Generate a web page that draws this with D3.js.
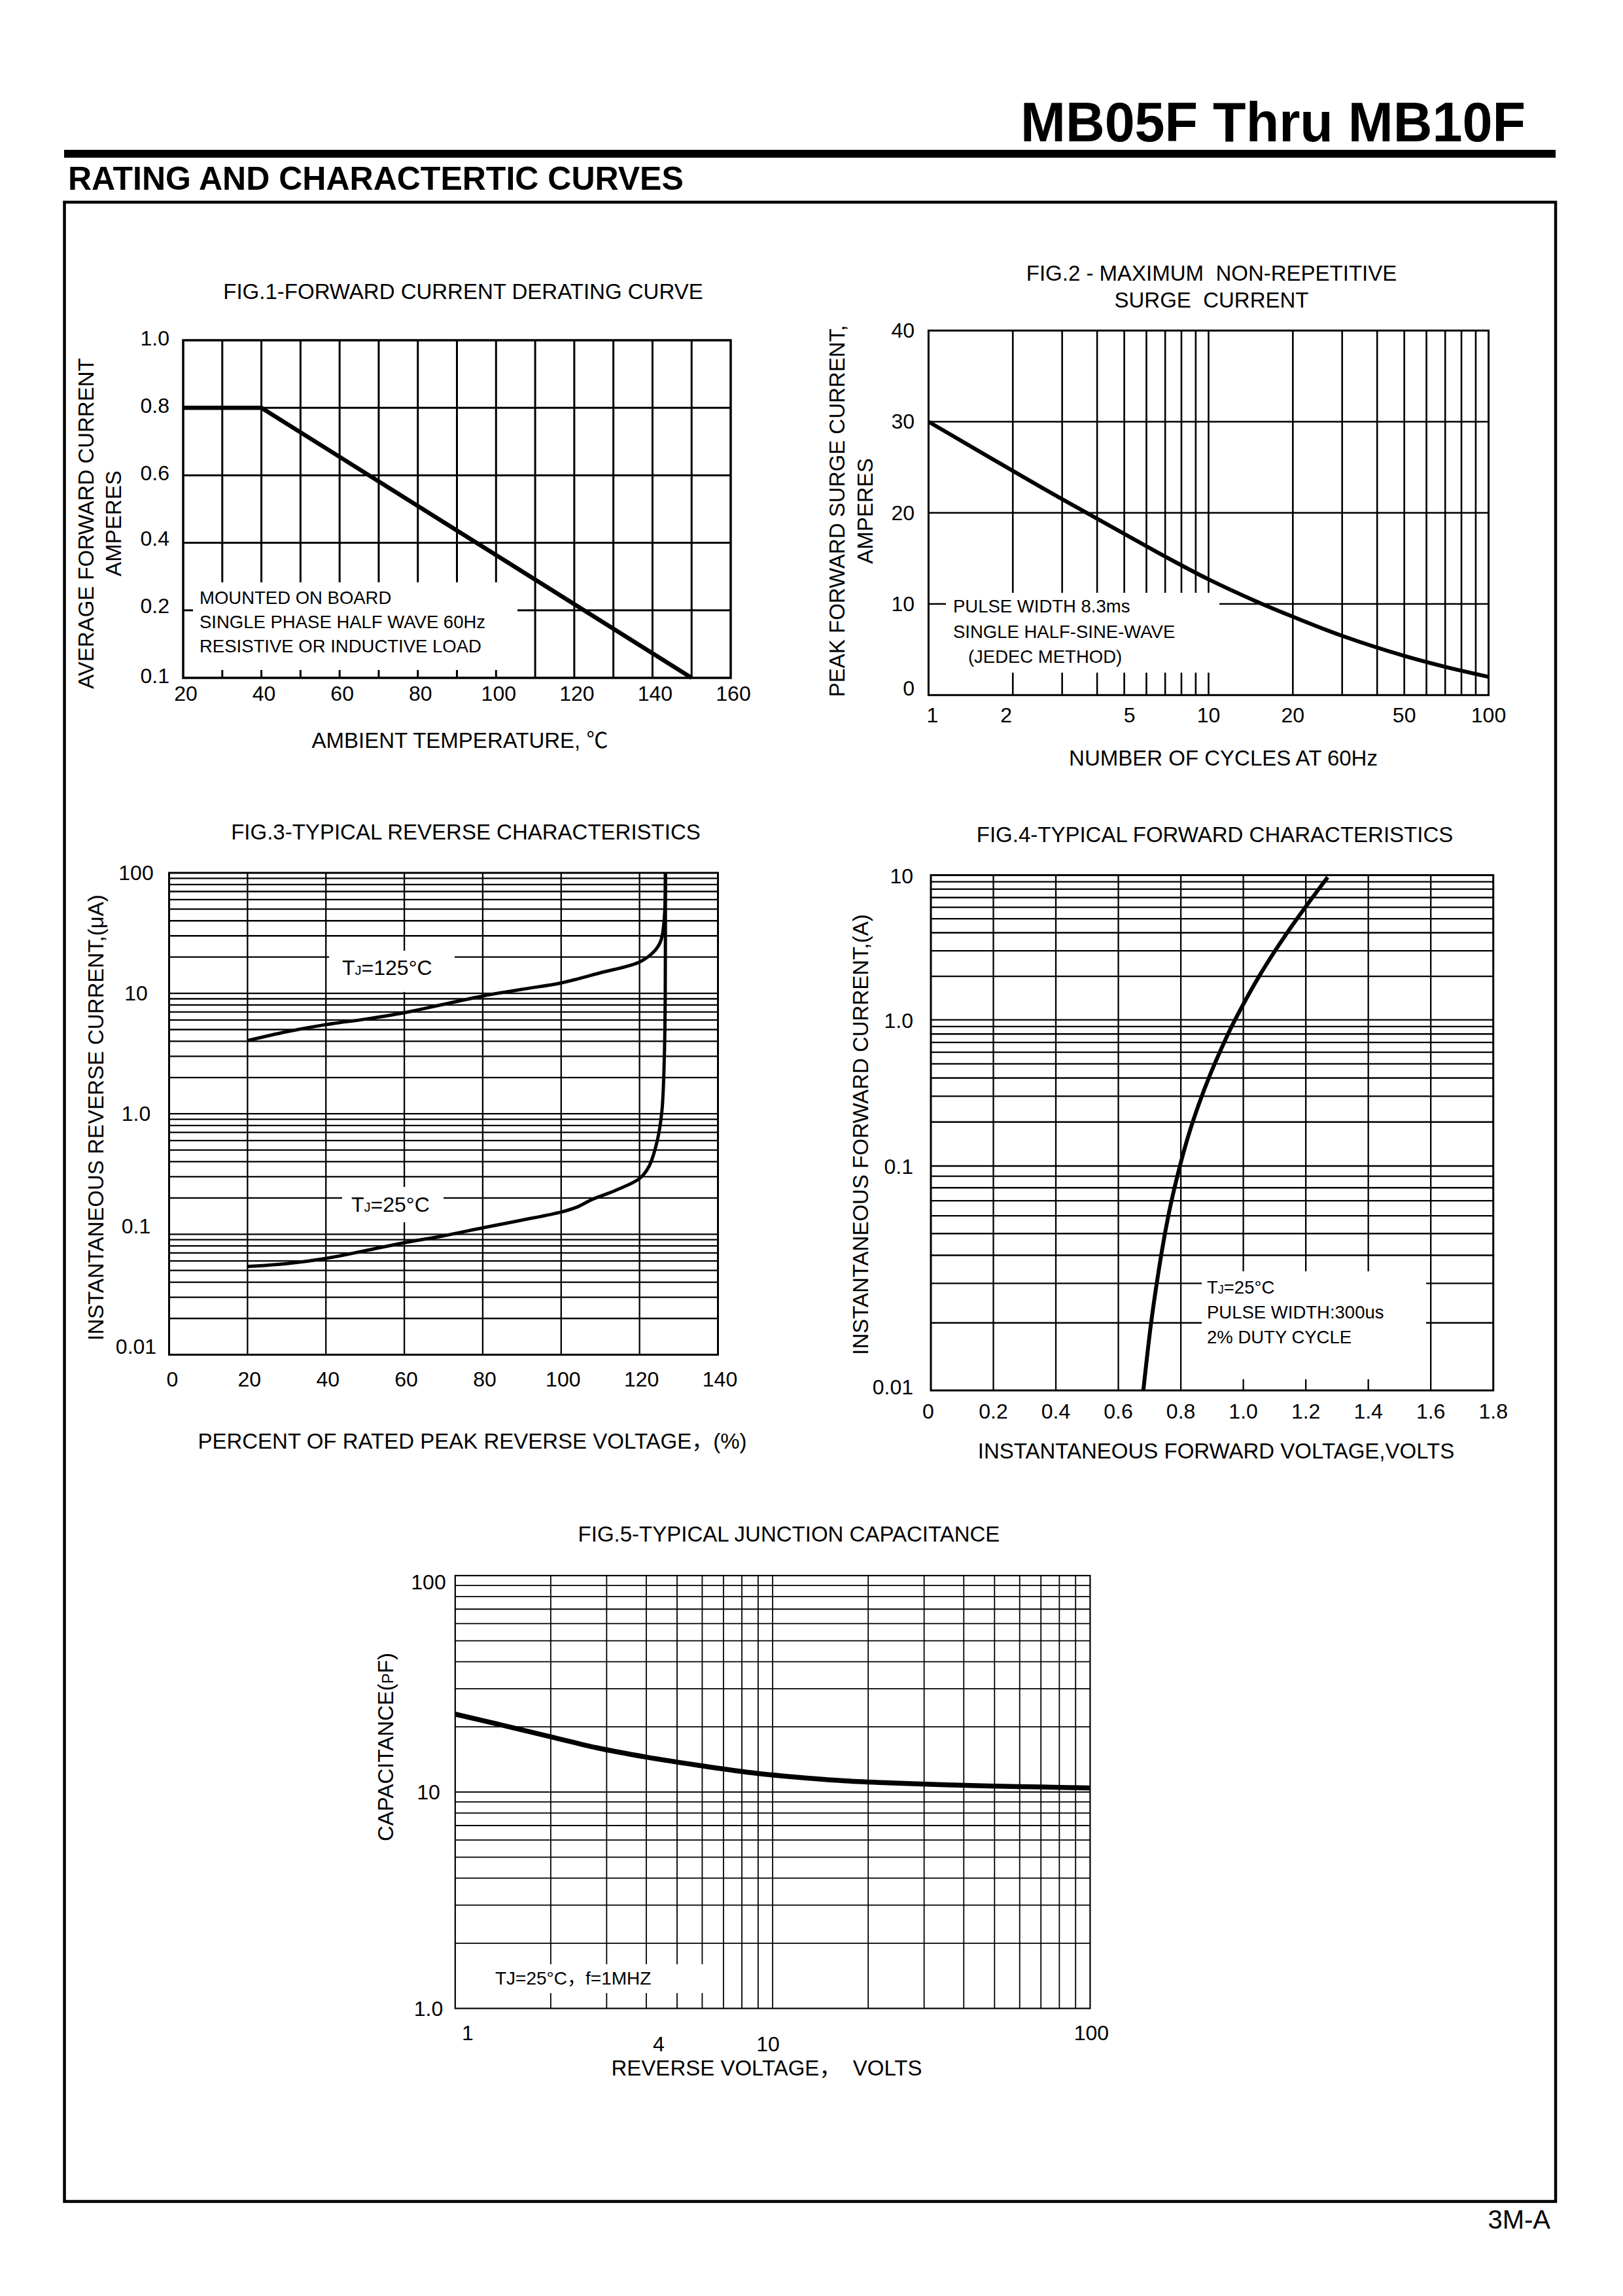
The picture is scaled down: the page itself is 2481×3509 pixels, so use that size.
<!DOCTYPE html>
<html><head><meta charset="utf-8">
<script src="https://cdn.jsdelivr.net/npm/d3@7"></script>
<style>
body{margin:0;background:#fff}
svg text{font-family:"Liberation Sans",Arial,"Noto Sans CJK SC",sans-serif;fill:#000;white-space:pre}
</style>
</head><body>
<svg id="c" width="2481" height="3509"></svg>
<script>
// ---------------- DATA ----------------
const pageTitle = "MB05F Thru MB10F";
const sectionTitle = "RATING AND CHARACTERTIC CURVES";
const pageCode = "3M-A";

// Fig.1 forward current derating
const fig1Temp = [20, 40, 150];
const fig1Current = [0.8, 0.8, 0.0];
const fig1XTicks = [20, 40, 60, 80, 100, 120, 140, 160];
const fig1YTicks = [0, 0.2, 0.4, 0.6, 0.8, 1.0];
const fig1YLabels = ["0.1", "0.2", "0.4", "0.6", "0.8", "1.0"];
const fig1Note = ["MOUNTED ON BOARD", "SINGLE PHASE HALF WAVE 60Hz", "RESISTIVE OR INDUCTIVE LOAD"];

// Fig.2 surge current
const fig2Cycles = [1, 2, 3, 5, 7, 10, 15, 20, 30, 50, 70, 100];
const fig2Surge = [30, 24.6, 21.5, 17.7, 15.2, 12.7, 10.2, 8.6, 6.5, 4.3, 3.1, 2.0];
const fig2XTicks = [1, 2, 5, 10, 20, 50, 100];
const fig2YTicks = [0, 10, 20, 30, 40];
const fig2Note = ["PULSE WIDTH 8.3ms", "SINGLE HALF-SINE-WAVE", "   (JEDEC METHOD)"];

// Fig.3 reverse characteristics
const fig3Pct125 = [20, 30, 40, 50, 60, 70, 80, 90, 100, 110, 120, 123.9, 125.5, 126.3, 126.6];
const fig3Cur125 = [4.05, 4.8, 5.5, 6.1, 6.9, 8.1, 9.5, 10.8, 12.2, 14.8, 18.2, 22.6, 27.7, 41.6, 100];
const fig3Pct25 = [20, 30, 40, 50, 60, 70, 80, 90, 100, 104, 108, 114, 120, 122.4, 124.5, 125.7, 126.3, 126.55, 126.6];
const fig3Cur25 = [0.054, 0.057, 0.063, 0.073, 0.085, 0.097, 0.113, 0.131, 0.153, 0.168, 0.195, 0.232, 0.29, 0.365, 0.594, 1.05, 2.79, 9.4, 100];
const fig3XTicks = [0, 20, 40, 60, 80, 100, 120, 140];
const fig3YTicks = [100, 10, 1, 0.1, 0.01];
const fig3YLabels = ["100", "10", "1.0", "0.1", "0.01"];

// Fig.4 forward characteristics
const fig4Volt = [0.680, 0.703, 0.723, 0.747, 0.768, 0.796, 0.824, 0.858, 0.895, 0.927, 0.959, 1.004, 1.053, 1.106, 1.163, 1.216, 1.270];
const fig4Amp = [0.010, 0.0191, 0.0301, 0.0481, 0.0678, 0.0987, 0.161, 0.266, 0.428, 0.617, 0.868, 1.33, 2.04, 3.10, 4.70, 6.76, 9.68];
const fig4XTicks = [0, 0.2, 0.4, 0.6, 0.8, 1.0, 1.2, 1.4, 1.6, 1.8];
const fig4XLabels = ["0", "0.2", "0.4", "0.6", "0.8", "1.0", "1.2", "1.4", "1.6", "1.8"];
const fig4YTicks = [10, 1, 0.1, 0.01];
const fig4YLabels = ["10", "1.0", "0.1", "0.01"];
const fig4Note = ["=25°C", "PULSE WIDTH:300us", "2% DUTY CYCLE"];

// Fig.5 junction capacitance
const fig5Volt = [1, 1.4, 2, 2.8, 4, 5.8, 8.3, 12, 17, 24, 35, 50, 70, 100];
const fig5Cap = [22.9, 20.4, 18.0, 16.0, 14.5, 13.3, 12.35, 11.7, 11.25, 11.0, 10.8, 10.65, 10.55, 10.45];
const fig5XTicks = [1, 4, 10, 100];
const fig5YTicks = [100, 10, 1];
const fig5YLabels = ["100", "10", "1.0"];

// ---------------- DRAWING ----------------
const svg = d3.select("#c");
svg.append("rect").attr("width", 2481).attr("height", 3509).attr("fill", "#fff");

// header
svg.append("text").attr("x", 2332).attr("y", 216).attr("text-anchor", "end")
  .attr("font-size", 85).attr("font-weight", "bold")
  .attr("textLength", 772).attr("lengthAdjust", "spacingAndGlyphs").text(pageTitle);
svg.append("rect").attr("x", 98).attr("y", 229).attr("width", 2280).attr("height", 12).attr("fill", "#000");
svg.append("text").attr("x", 104).attr("y", 290).attr("font-size", 50).attr("font-weight", "bold").text(sectionTitle);
svg.append("rect").attr("x", 98.5).attr("y", 309).attr("width", 2279.5).attr("height", 3055.5)
  .attr("fill", "none").attr("stroke", "#000").attr("stroke-width", 4.5);
svg.append("text").attr("x", 2370).attr("y", 3406).attr("text-anchor", "end").attr("font-size", 40).text(pageCode);

function txt(g, x, y, s, size, anchor) {
  return g.append("text").attr("x", x).attr("y", y).attr("font-size", size)
    .attr("text-anchor", anchor || "start").text(s);
}
function vtxt(g, bx, cy, s, size) {
  return g.append("text").attr("transform", `translate(${bx},${cy}) rotate(-90)`)
    .attr("text-anchor", "middle").attr("font-size", size).text(s);
}
function grid(g, x, y, xs, ys, L, R, T, B, w) {
  g.append("g").selectAll("line").data(xs).join("line")
    .attr("x1", d => x(d)).attr("x2", d => x(d)).attr("y1", T).attr("y2", B)
    .attr("stroke", "#000").attr("stroke-width", w);
  g.append("g").selectAll("line").data(ys).join("line")
    .attr("y1", d => y(d)).attr("y2", d => y(d)).attr("x1", L).attr("x2", R)
    .attr("stroke", "#000").attr("stroke-width", w);
}
function box(g, x0, y0, x1, y1) {
  g.append("rect").attr("x", x0).attr("y", y0).attr("width", x1 - x0).attr("height", y1 - y0).attr("fill", "#fff");
}
function frame(g, L, R, T, B, w) {
  g.append("rect").attr("x", L).attr("y", T).attr("width", R - L).attr("height", B - T)
    .attr("fill", "none").attr("stroke", "#000").attr("stroke-width", w);
}
function curve(g, x, y, xs, ys, w, cv) {
  const pts = xs.map((d, i) => [d, ys[i]]);
  g.append("path").datum(pts)
    .attr("d", d3.line().x(d => x(d[0])).y(d => y(d[1])).curve(cv || d3.curveLinear))
    .attr("fill", "none").attr("stroke", "#000").attr("stroke-width", w)
    .attr("stroke-linejoin", "round").attr("stroke-linecap", "butt");
}
const inner = (arr, a, b) => arr.filter(v => Math.abs(v - a) > 1e-9 && Math.abs(v - b) > 1e-9);
const smooth = d3.curveCatmullRom.alpha(0.5);

// ---------- FIG 1 ----------
{
  const L = 280, R = 1117, T = 520, B = 1036;
  const g = svg.append("g");
  const x = d3.scaleLinear().domain([20, 160]).range([L, R]);
  const y = d3.scaleLinear().domain([0, 1]).range([B, T]);
  grid(g, x, y, d3.range(30, 160, 10), inner(fig1YTicks, 0, 1), L, R, T, B, 3);
  box(g, 295, 890, 791, 1024);
  curve(g, x, y, fig1Temp, fig1Current, 6.5);
  frame(g, L, R, T, B, 3.5);
  txt(g, 708, 457, "FIG.1-FORWARD CURRENT DERATING CURVE", 33, "middle");
  fig1YTicks.forEach((v, i) => txt(g, 259, y(v) + 8 - (v > 0 && v < 0.5 ? 4 : 0), fig1YLabels[i], 32, "end"));
  fig1XTicks.forEach(v => txt(g, x(v) + 4, 1071, String(v), 32, "middle"));
  txt(g, 703, 1143, "AMBIENT TEMPERATURE, ℃", 33, "middle");
  vtxt(g, 143, 800, "AVERAGE FORWARD CURRENT", 33);
  vtxt(g, 185, 800, "AMPERES", 33);
  fig1Note.forEach((s, i) => txt(g, 305, 923 + i * 37, s, 27.5));
}

// ---------- FIG 2 ----------
{
  const L = 1419.4, R = 2275.5, T = 505.2, B = 1062.3;
  const g = svg.append("g");
  const x = d3.scaleLog().domain([1, 100]).range([L, R]);
  const y = d3.scaleLinear().domain([0, 40]).range([B, T]);
  grid(g, x, y, inner(x.ticks(), 1, 100), [10, 20, 30], L, R, T, B, 2.6);
  box(g, 1446, 906, 1864, 1028);
  curve(g, x, y, fig2Cycles, fig2Surge, 6, smooth);
  frame(g, L, R, T, B, 3);
  txt(g, 1852, 429, "FIG.2 - MAXIMUM  NON-REPETITIVE", 33, "middle");
  txt(g, 1852, 470, "SURGE  CURRENT", 33, "middle");
  fig2YTicks.forEach(v => txt(g, 1398, y(v) + 11 - (v === 0 ? 10 : 0), String(v), 32, "end"));
  fig2XTicks.forEach(v => txt(g, x(v) + (v === 1 ? 6 : v === 2 ? -10 : v === 5 ? 8 : 0), 1104, String(v), 32, "middle"));
  txt(g, 1870, 1170, "NUMBER OF CYCLES AT 60Hz", 33, "middle");
  vtxt(g, 1291, 781, "PEAK FORWARD SURGE CURRENT,", 33);
  vtxt(g, 1334, 781, "AMPERES", 33);
  fig2Note.forEach((s, i) => txt(g, 1457, 936 + i * 38.5, s, 27.5));
}

// ---------- FIG 3 ----------
{
  const L = 258.5, R = 1097.5, T = 1334, B = 2070.4;
  const g = svg.append("g");
  const x = d3.scaleLinear().domain([0, 140]).range([L, R]);
  const y = d3.scaleLog().domain([0.01, 100]).range([B, T]);
  grid(g, x, y, d3.range(20, 140, 20), inner(y.ticks(), 0.01, 100), L, R, T, B, 2.3);
  box(g, 503, 1453, 695, 1516);
  box(g, 523, 1814, 678, 1868);
  curve(g, x, y, fig3Pct125, fig3Cur125, 5, smooth);
  curve(g, x, y, fig3Pct25, fig3Cur25, 5, smooth);
  frame(g, L, R, T, B, 3);
  txt(g, 712, 1283, "FIG.3-TYPICAL REVERSE CHARACTERISTICS", 33, "middle");
  fig3YTicks.forEach((v, i) => txt(g, 208, y(v) + 11 - (v < 0.5 ? 12 : 0), fig3YLabels[i], 32, "middle"));
  fig3XTicks.forEach(v => txt(g, x(v) + (v === 0 ? 5 : 3), 2119, String(v), 32, "middle"));
  txt(g, 722, 2214, "PERCENT OF RATED PEAK REVERSE VOLTAGE，(%)", 33, "middle");
  vtxt(g, 158, 1708, "INSTANTANEOUS REVERSE CURRENT,(μA)", 33);
  const t1 = txt(g, 523, 1490, "T", 32); t1.append("tspan").attr("font-size", 20).text("J"); t1.append("tspan").text("=125°C");
  const t2 = txt(g, 537, 1852, "T", 32); t2.append("tspan").attr("font-size", 20).text("J"); t2.append("tspan").text("=25°C");
}

// ---------- FIG 4 ----------
{
  const L = 1423, R = 2282.7, T = 1337.5, B = 2125;
  const g = svg.append("g");
  const x = d3.scaleLinear().domain([0, 1.8]).range([L, R]);
  const y = d3.scaleLog().domain([0.01, 0.1, 1, 10]).range([B, 1782, 1558.6, T]);
  grid(g, x, y, inner(fig4XTicks, 0, 1.8), inner(y.ticks(), 0.01, 10), L, R, T, B, 2.3);
  box(g, 1837, 1943, 2180, 2108);
  curve(g, x, y, fig4Volt, fig4Amp, 6, smooth);
  frame(g, L, R, T, B, 3);
  txt(g, 1857, 1287, "FIG.4-TYPICAL FORWARD CHARACTERISTICS", 33, "middle");
  fig4YTicks.forEach((v, i) => txt(g, 1396, y(v) + 12 - (v === 0.01 ? 6 : 0), fig4YLabels[i], 32, "end"));
  fig4XTicks.forEach((v, i) => txt(g, x(v) + (i === 0 ? -4 : 0), 2168, fig4XLabels[i], 32, "middle"));
  txt(g, 1859, 2229, "INSTANTANEOUS FORWARD VOLTAGE,VOLTS", 33, "middle");
  vtxt(g, 1327, 1734, "INSTANTANEOUS FORWARD CURRENT,(A)", 33);
  const n0 = txt(g, 1845, 1977, "T", 27.5); n0.append("tspan").attr("font-size", 18).text("J"); n0.append("tspan").text(fig4Note[0]);
  txt(g, 1845, 2015, fig4Note[1], 27.5);
  txt(g, 1845, 2053, fig4Note[2], 27.5);
}

// ---------- FIG 5 ----------
{
  const L = 695.8, R = 1666.4, T = 2408, B = 3069.5;
  const g = svg.append("g");
  const x = d3.scaleLog().domain([1, 100]).range([L, R]);
  const y = d3.scaleLog().domain([1, 100]).range([B, T]);
  grid(g, x, y, inner(x.ticks(), 1, 100), inner(y.ticks(), 1, 100), L, R, T, B, 1.8);
  box(g, 697, 3002, 1101, 3046);
  curve(g, x, y, fig5Volt, fig5Cap, 7.5, smooth);
  frame(g, L, R, T, B, 2.2);
  txt(g, 1206, 2356, "FIG.5-TYPICAL JUNCTION CAPACITANCE", 33, "middle");
  fig5YTicks.forEach((v, i) => txt(g, 655, y(v) + 11 + (v === 100 ? 10 : 0), fig5YLabels[i], 32, "middle"));
  fig5XTicks.forEach(v => {
    const mid = (v === 4 || v === 10);
    txt(g, x(v) + (v === 1 ? 19 : v === 4 ? 19 : v === 10 ? -7 : 2), mid ? 3135 : 3118, String(v), 32, "middle");
  });
  txt(g, 1172, 3172, "REVERSE VOLTAGE，  VOLTS", 33, "middle");
  const yl = vtxt(g, 601, 2670, "CAPACITANCE(", 33);
  yl.append("tspan").attr("font-size", 24).text("P"); yl.append("tspan").text("F)");
  txt(g, 757, 3033, "TJ=25°C，f=1MHZ", 28);
}
</script>
</body></html>
